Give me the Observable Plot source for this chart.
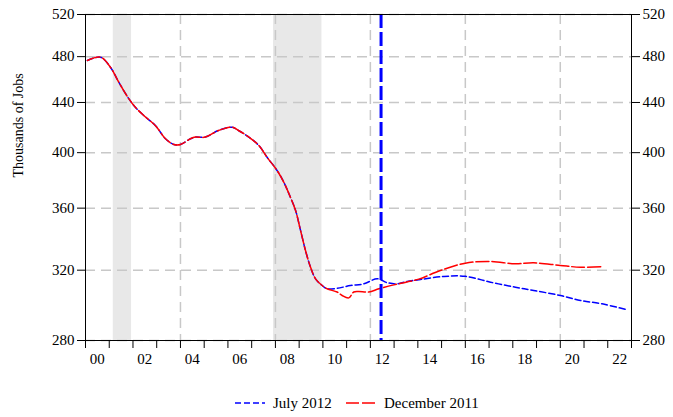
<!DOCTYPE html>
<html><head><meta charset="utf-8">
<script src="https://cdn.jsdelivr.net/npm/d3@7"></script>
<script src="https://cdn.jsdelivr.net/npm/@observablehq/plot@0.6"></script>
<style>
body{margin:0;background:#fff;font-family:"Liberation Serif",serif;}
#chart{width:673px;height:372px;}
#legend{position:relative;width:673px;height:45px;font-size:15px;color:#000;}
#legend .it{position:absolute;top:22px;display:flex;align-items:center;white-space:nowrap;line-height:18px;}
#legend svg{margin-right:8px;}
</style></head><body><div id="chart"></div><div id="legend"></div>
<script>
// Shared history (both vintages identical)
const histYears = [2000.08,2000.63,2001.05,2001.4,2001.83,2002.1,2002.53,2002.95,2003.37,2003.72,2004.0,2004.42,2004.63,2005.05,2005.6,2006.18,2006.46,2006.88,2007.3,2007.65,2008.07,2008.35,2008.63,2008.85,2009.06,2009.27,2009.48,2009.69,2009.97,2010.18];
const histJobs  = [476.5,479.5,470.5,457.3,443,436,428,421,410.7,406.3,406.3,410.7,412,412,417.2,419.8,417,412,405.5,396.5,386.7,378.3,367.6,358.4,345,332,321.8,314.8,310.8,308.9];
// July 2012 vintage tail
const julyYears = [2010.6,2011.16,2011.72,2012.29,2012.71,2013.13,2013.55,2014.11,2015.1,2016.0,2017.06,2018.11,2018.88,2020.0,2020.85,2021.76,2022.82];
const julyJobs  = [309.2,310.8,311.8,314.8,312.5,311.8,313.2,314.4,316.2,316.3,312.8,309.8,307.9,305,302.1,300.2,296.8];
// December 2011 vintage tail
const decYears = [2010.6,2010.81,2011.09,2011.3,2011.51,2011.93,2012.36,2012.99,2013.5,2014.04,2014.95,2016.0,2017.06,2018.11,2018.88,2020.0,2020.85,2021.76];
const decJobs  = [307,305,303.6,307,307.3,307,308.9,311.2,312.8,314.6,319.8,324.3,325.3,323.9,324.5,322.9,321.8,322.2];
// Recessions
const recStart = [2001.17, 2007.92];
const recEnd   = [2001.94, 2009.96];
const vintageLine = [2012.45];
// Ticks
const yTicks = [280,320,360,400,440,480,520];
const tickYears = d3.range(2000, 2024);
const labelYears = [2000,2002,2004,2006,2008,2010,2012,2014,2016,2018,2020,2022];
const xLabels = ["00","02","04","06","08","10","12","14","16","18","20","22"];
const gridYears = [2004,2008,2012,2016,2020];
const seriesNames = ["July 2012","December 2011"];

const hist = histYears.map((x,i)=>({x, y: histJobs[i]}));
const july = hist.concat(julyYears.map((x,i)=>({x, y: julyJobs[i]})));
const dec = hist.concat(decYears.map((x,i)=>({x, y: decJobs[i]})));
const recs = recStart.map((s,i)=>({s, e: recEnd[i]}));
const labelMap = new Map(labelYears.map((y,i)=>[y+0.5, xLabels[i]]));

const chart = Plot.plot({
  width: 673, height: 372,
  marginTop: 14, marginLeft: 85, marginRight: 42, marginBottom: 32,
  style: {fontFamily: "Liberation Serif", fontSize: "15px", color: "black", background: "white"},
  x: {type: "linear", domain: [2000, 2023]},
  y: {type: "log", domain: [280, 520]},
  marks: [
    Plot.rect(recs, {x1: "s", x2: "e", fill: "#e8e8e8"}),
    Plot.ruleY(yTicks, {stroke: "#c8c8c8", strokeWidth: 1.5, strokeDasharray: "10,6"}),
    Plot.ruleX(gridYears, {stroke: "#c8c8c8", strokeWidth: 1.5, strokeDasharray: "10,6"}),
    Plot.line(july, {x: "x", y: "y", stroke: "#0000ff", strokeWidth: 1.5, strokeDasharray: "6,3", curve: "catmull-rom"}),
    Plot.line(dec, {x: "x", y: "y", stroke: "#ff0000", strokeWidth: 1.5, strokeDasharray: "13,3", curve: "catmull-rom"}),
    Plot.ruleX(vintageLine, {stroke: "#0000ff", strokeWidth: 3, strokeDasharray: "14,4"}),
    Plot.frame({stroke: "black"}),
    Plot.axisY(yTicks, {anchor: "left", tickSize: 8, tickPadding: 3, label: null, tickFormat: d => String(d)}),
    Plot.axisY(yTicks, {anchor: "right", tickSize: 8, tickPadding: 3, label: null, tickFormat: d => String(d)}),
    Plot.axisX(tickYears, {anchor: "bottom", tickSize: 8, tickFormat: () => "", label: null}),
    Plot.axisX(labelYears.map(y => y + 0.5), {anchor: "bottom", tickSize: 0, tickPadding: 13, tickFormat: d => labelMap.get(d), label: null}),
    Plot.text(["Thousands of Jobs"], {frameAnchor: "left", text: d => d, rotate: -90, dx: -67, fontSize: 14})
  ]
});
document.getElementById("chart").appendChild(chart);

const legend = document.getElementById("legend");
const items = [
  {name: seriesNames[0], color: "#0000ff", dash: "6,3", left: 235},
  {name: seriesNames[1], color: "#ff0000", dash: "13,3", left: 346}
];
for (const it of items) {
  const d = document.createElement("div");
  d.className = "it";
  d.style.left = it.left + "px";
  d.innerHTML = `<svg width="30" height="10"><line x1="0" y1="5" x2="30" y2="5" stroke="${it.color}" stroke-width="1.5" stroke-dasharray="${it.dash}"/></svg><span>${it.name}</span>`;
  legend.appendChild(d);
}
</script></body></html>
